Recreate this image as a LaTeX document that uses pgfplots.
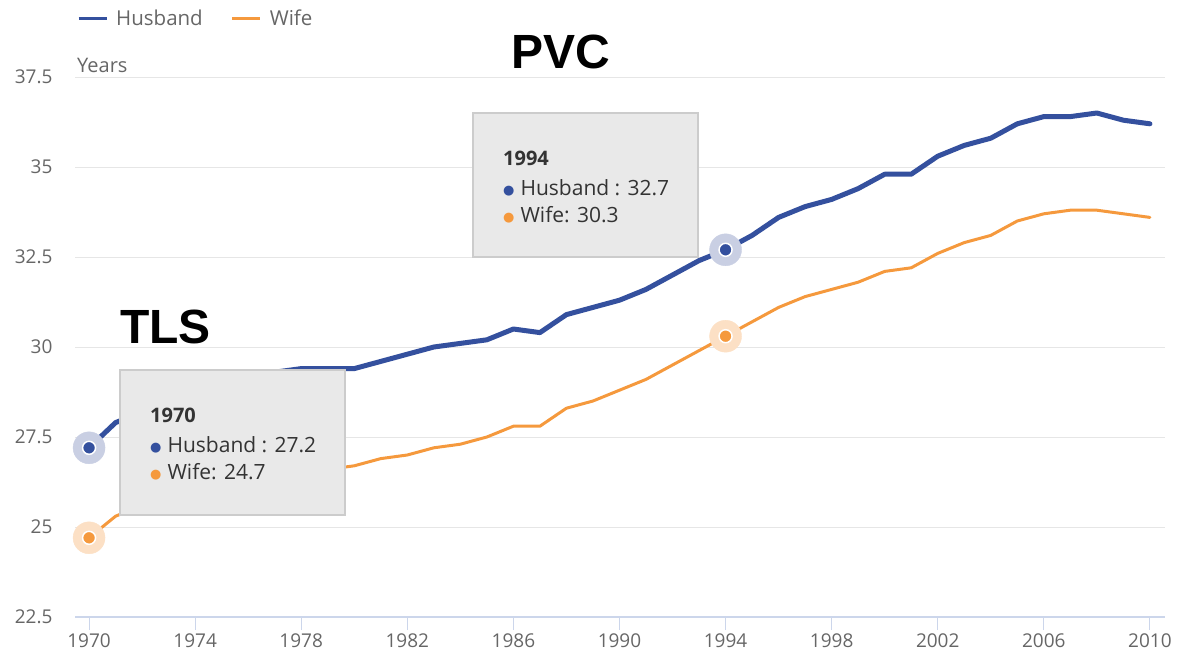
\documentclass[border=0pt]{standalone}
\usepackage{fontspec}
\setmainfont{Open Sans}
\newfontfamily\labfont{Liberation Sans}
\newfontfamily\symfont{DejaVu Sans}
\usepackage{pgfplots}
\pgfplotsset{compat=1.18}
\definecolor{huscol}{HTML}{34509E}
\definecolor{wifcol}{HTML}{F5993D}
\definecolor{hushalo}{HTML}{C9CFE3}
\definecolor{wifhalo}{HTML}{FCE0C5}
\definecolor{gridc}{HTML}{E6E6E6}
\definecolor{axisc}{HTML}{CCD6EB}
\definecolor{textc}{HTML}{666666}
\definecolor{tipt}{HTML}{333333}
\definecolor{tipfill}{HTML}{E9E9E9}
\definecolor{tipborder}{HTML}{CCCCCC}
\newcommand{\bul}[1]{{\color{#1}\symfont\fontsize{13}{13}\selectfont\raisebox{0.5pt}{●}}}

\pgfplotstableread{
year husband wife
1970 27.2 24.7
1971 27.9 25.3
1972 28.2 25.6
1973 28.4 25.8
1974 28.7 26.0
1975 28.9 26.2
1976 29.1 26.3
1977 29.3 26.4
1978 29.4 26.5
1979 29.4 26.6
1980 29.4 26.7
1981 29.6 26.9
1982 29.8 27.0
1983 30.0 27.2
1984 30.1 27.3
1985 30.2 27.5
1986 30.5 27.8
1987 30.4 27.8
1988 30.9 28.3
1989 31.1 28.5
1990 31.3 28.8
1991 31.6 29.1
1992 32.0 29.5
1993 32.4 29.9
1994 32.7 30.3
1995 33.1 30.7
1996 33.6 31.1
1997 33.9 31.4
1998 34.1 31.6
1999 34.4 31.8
2000 34.8 32.1
2001 34.8 32.2
2002 35.3 32.6
2003 35.6 32.9
2004 35.8 33.1
2005 36.2 33.5
2006 36.4 33.7
2007 36.4 33.8
2008 36.5 33.8
2009 36.3 33.7
2010 36.2 33.6
}\datatable

\begin{document}
\begin{tikzpicture}[x=1pt,y=1pt]
\path[use as bounding box] (0,0) rectangle (1178,-656);
\begin{axis}[
  at={(75pt,-617pt)}, anchor=south west,
  scale only axis, width=1090pt, height=540pt,
  xmin=1969.47, xmax=2010.57, ymin=22.5, ymax=37.5,
  axis x line*=bottom, axis y line*=left,
  x axis line style={draw=axisc, line width=1.5pt, -},
  y axis line style={draw=none},
  xtick={1970,1974,1978,1982,1986,1990,1994,1998,2002,2006,2010},
  xticklabels={1970,1974,1978,1982,1986,1990,1994,1998,2002,2006,2010},
  ytick={22.5,25,27.5,30,32.5,35,37.5},
  yticklabels={22.5,25,27.5,30,32.5,35,37.5},
  ymajorgrids, y grid style={draw=gridc, line width=1pt},
  major tick length=13pt, tick align=outside,
  xtick style={draw=axisc, line width=1pt},
  ytick style={draw=none},
  xticklabel style={font=\fontsize{19}{22}\selectfont, text=textc},
  yticklabel style={font=\fontsize{19}{22}\selectfont, text=textc, anchor=east, xshift=-6pt},
  clip=false,
  legend style={at={(0,1)}, anchor=west, xshift=-1pt, yshift=59pt, draw=none, fill=none,
    font=\fontsize{20.5}{24}\selectfont, text=textc, legend columns=2,
    /tikz/every odd column/.append style={column sep=6pt},
    /tikz/every even column/.append style={column sep=26pt}},
  legend image code/.code={\draw[#1, line width=3pt, line cap=butt] (0pt,0pt) -- (28pt,0pt);},
]
\addplot[forget plot, hushalo, only marks, mark=*, mark size=16pt, mark options={draw=hushalo, fill=hushalo}] coordinates {(1970,27.2) (1994,32.7)};
\addplot[forget plot, wifhalo, only marks, mark=*, mark size=16pt, mark options={draw=wifhalo, fill=wifhalo}] coordinates {(1970,24.7) (1994,30.3)};
\addplot[huscol, line width=5pt, line join=round, line cap=round, no marks] table[x=year, y=husband] {\datatable};
\addlegendentry{Husband}
\addplot[wifcol, line width=3pt, line join=round, line cap=round, no marks] table[x=year, y=wife] {\datatable};
\addlegendentry{Wife}
\addplot[forget plot, huscol, only marks, mark=*, mark size=6.5pt, mark options={draw=white, fill=huscol, line width=1.5pt}] coordinates {(1970,27.2) (1994,32.7)};
\addplot[forget plot, wifcol, only marks, mark=*, mark size=6.5pt, mark options={draw=white, fill=wifcol, line width=1.5pt}] coordinates {(1970,24.7) (1994,30.3)};
\end{axis}

% axis title
\node[anchor=base west, inner sep=0, font=\fontsize{20}{24}\selectfont, text=textc] at (77,-72) {Years};

% tooltip 1970
\draw[fill=tipfill, draw=tipborder, line width=1.5pt] (120,-370) rectangle (345,-515);
\node[anchor=base west, inner sep=0, font=\fontsize{20}{24}\selectfont\bfseries, text=tipt] at (150,-422) {1970};
\node[anchor=base west, inner sep=0, font=\fontsize{21}{24}\selectfont, text=tipt] at (150,-452) {\bul{huscol}\hspace{6pt}Husband : 27.2};
\node[anchor=base west, inner sep=0, font=\fontsize{21}{24}\selectfont, text=tipt] at (150,-479) {\bul{wifcol}\hspace{6pt}Wife: 24.7};

% tooltip 1994
\draw[fill=tipfill, draw=tipborder, line width=1.5pt] (473,-113) rectangle (698,-257);
\node[anchor=base west, inner sep=0, font=\fontsize{20}{24}\selectfont\bfseries, text=tipt] at (503,-165) {1994};
\node[anchor=base west, inner sep=0, font=\fontsize{21}{24}\selectfont, text=tipt] at (503,-195) {\bul{huscol}\hspace{6pt}Husband : 32.7};
\node[anchor=base west, inner sep=0, font=\fontsize{21}{24}\selectfont, text=tipt] at (503,-222) {\bul{wifcol}\hspace{6pt}Wife: 30.3};

% annotations
\node[anchor=base, inner sep=0, font=\fontsize{48}{56}\selectfont\labfont\bfseries, text=black] at (165.5,-343.3) {TLS};
\node[anchor=base, inner sep=0, font=\fontsize{48}{56}\selectfont\labfont\bfseries, text=black] at (561,-68.3) {PVC};
\end{tikzpicture}
\end{document}
